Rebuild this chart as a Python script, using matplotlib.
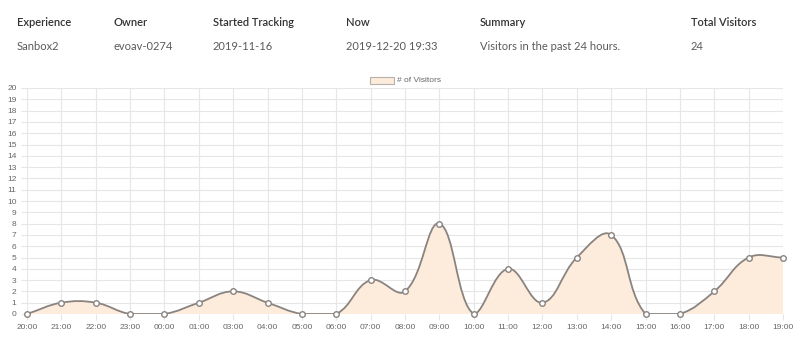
import numpy as np
import matplotlib
matplotlib.use('Agg')
import matplotlib.pyplot as plt
from matplotlib.path import Path
from matplotlib.patches import PathPatch, Rectangle

hours = ['20:00', '21:00', '22:00', '23:00', '00:00', '01:00', '03:00', '04:00',
         '05:00', '06:00', '07:00', '08:00', '09:00', '10:00', '11:00', '12:00',
         '13:00', '14:00', '15:00', '16:00', '17:00', '18:00', '19:00']
visitors = [0, 1, 1, 0, 0, 1, 2, 1, 0, 0, 3, 2, 8, 0, 4, 1, 5, 7, 0, 0, 2, 5, 5]

header_titles = ['Experience', 'Owner', 'Started Tracking', 'Now', 'Summary', 'Total Visitors']
header_values = ['Sanbox2', 'evoav-0274', '2019-11-16', '2019-12-20 19:33',
                 'Visitors in the past 24 hours.', '24']
header_x = [17, 114, 213, 346, 480, 691]

line_col = '#8a8480'
fill_col = '#fdebdc'
grid_col = '#e6e6e6'
tick_col = '#666666'

plt.rcParams['font.family'] = ['Lato', 'DejaVu Sans']

W, H = 800, 353
fig = plt.figure(figsize=(W / 100, H / 100), dpi=100)
ax = fig.add_axes([27 / W, (H - 314) / H, (783 - 27) / W, (314 - 88) / H])

for t, v, x in zip(header_titles, header_values, header_x):
    fig.text(x / W, 1 - 23 / H, t, fontsize=8, color='#333333', fontweight='semibold', va='center')
    fig.text(x / W, 1 - 47 / H, v, fontsize=8, color='#5a5a5a', va='center')

xs = np.arange(len(hours))
ax.set_xlim(0, len(hours) - 1)
ax.set_ylim(0, 20)
ax.set_xticks(xs)
ax.set_xticklabels(hours)
ax.set_yticks(range(0, 21))
ax.tick_params(axis='both', labelsize=6, colors=tick_col, length=4, width=0.8)
ax.tick_params(axis='both', color=grid_col)
for lbl in ax.get_xticklabels() + ax.get_yticklabels():
    lbl.set_fontfamily(['Liberation Sans', 'DejaVu Sans'])
ax.grid(True, color=grid_col, linewidth=0.8)
ax.set_axisbelow(True)
for s in ax.spines.values():
    s.set_visible(False)
ax.axhline(0, color=grid_col, linewidth=0.8, zorder=0)

# Chart.js style spline (tension 0.4), computed in pixel space
fig.canvas.draw()
pts = ax.transData.transform(np.column_stack([xs, visitors]))
tension = 0.4
n = len(pts)
cp_prev = np.zeros_like(pts)
cp_next = np.zeros_like(pts)
for i in range(n):
    prev = pts[i - 1] if i > 0 else pts[i]
    cur = pts[i]
    nxt = pts[i + 1] if i < n - 1 else pts[i]
    d01 = np.hypot(*(cur - prev))
    d12 = np.hypot(*(nxt - cur))
    tot = d01 + d12
    s01 = d01 / tot if tot else 0
    s12 = d12 / tot if tot else 0
    cp_prev[i] = cur - tension * s01 * (nxt - prev)
    cp_next[i] = cur + tension * s12 * (nxt - prev)
bb = ax.bbox
cp_prev[:, 1] = np.clip(cp_prev[:, 1], bb.y0, bb.y1)
cp_next[:, 1] = np.clip(cp_next[:, 1], bb.y0, bb.y1)

verts = [pts[0]]
codes = [Path.MOVETO]
for i in range(n - 1):
    verts += [cp_next[i], cp_prev[i + 1], pts[i + 1]]
    codes += [Path.CURVE4] * 3
inv = ax.transData.inverted()
verts_d = inv.transform(np.array(verts))

fill_verts = list(verts_d) + [(xs[-1], 0), (xs[0], 0), verts_d[0]]
fill_codes = codes + [Path.LINETO, Path.LINETO, Path.CLOSEPOLY]
ax.add_patch(PathPatch(Path(fill_verts, fill_codes), facecolor=fill_col, edgecolor='none', zorder=1))
ax.add_patch(PathPatch(Path(verts_d, codes), facecolor='none', edgecolor=line_col, linewidth=1.3, zorder=2))
ax.plot(xs, visitors, 'o', markersize=4, markerfacecolor='white', markeredgecolor=line_col,
        markeredgewidth=1, zorder=3, clip_on=False)

# legend
fig.patches.append(Rectangle((370 / W, 1 - 84 / H), 24 / W, 7 / H, transform=fig.transFigure,
                             facecolor=fill_col, edgecolor='#b8b0aa', linewidth=0.8))
fig.text(397 / W, 1 - 80.5 / H, '# of Visitors', fontsize=6, color=tick_col, va='center',
         family=['Liberation Sans', 'DejaVu Sans'])

fig.savefig('out.png', dpi=100)
